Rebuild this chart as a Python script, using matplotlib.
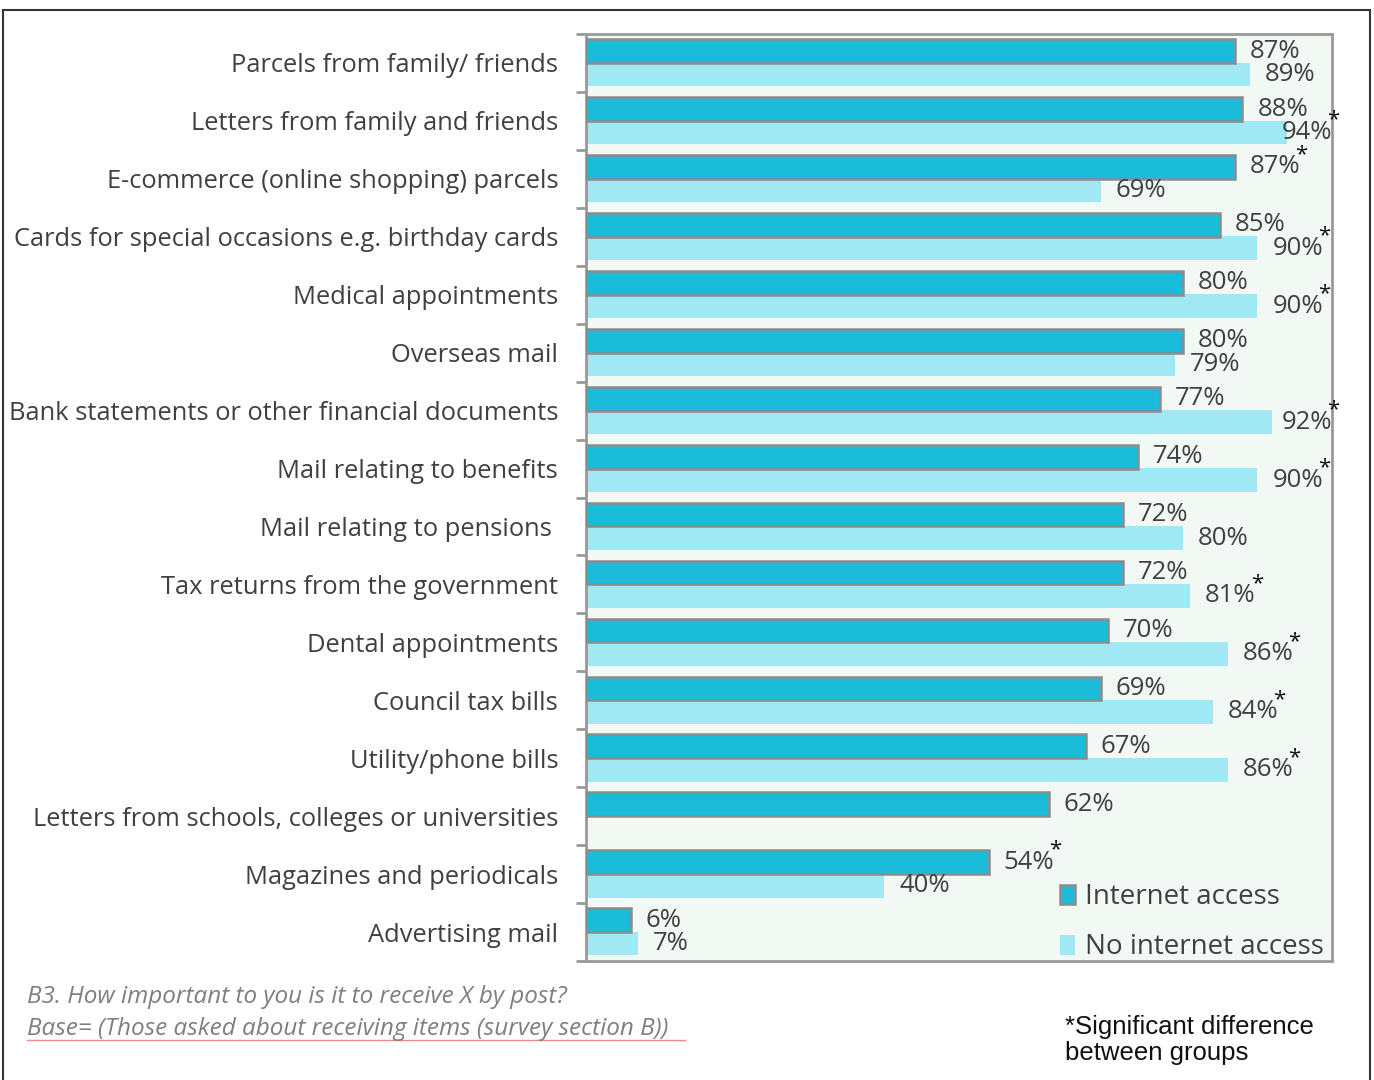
import numpy as np
import matplotlib
matplotlib.use('Agg')
import matplotlib.pyplot as plt
from matplotlib.patches import Patch, Rectangle
from matplotlib.lines import Line2D

# Importance of receiving each item by post, by internet access
categories = [
    'Parcels from family/ friends',
    'Letters from family and friends',
    'E-commerce (online shopping) parcels',
    'Cards for special occasions e.g. birthday cards',
    'Medical appointments',
    'Overseas mail',
    'Bank statements or other financial documents',
    'Mail relating to benefits',
    'Mail relating to pensions ',
    'Tax returns from the government',
    'Dental appointments',
    'Council tax bills',
    'Utility/phone bills',
    'Letters from schools, colleges or universities',
    'Magazines and periodicals',
    'Advertising mail',
]
internet = [87, 88, 87, 85, 80, 80, 77, 74, 72, 72, 70, 69, 67, 62, 54, 6]
no_internet = [89, 94, 69, 90, 90, 79, 92, 90, 80, 81, 86, 84, 86, np.nan, 40, 7]
significant = [False, True, True, True, True, False, True, True,
               False, True, True, True, True, False, True, False]

dark = '#1bbcd9'
light = '#a0e8f3'
txt = '#404040'

plt.rcParams['font.family'] = ['Open Sans', 'DejaVu Sans']

fig = plt.figure(figsize=(13.74, 10.8), dpi=100)
ax = fig.add_axes([586 / 1374, 1 - 961 / 1080, 746 / 1374, 927 / 1080])
ax.set_facecolor('#f2f9f5')

y = np.arange(len(categories))
h = 0.41
ax.barh(y - 0.205, internet, height=h, color=dark, edgecolor='#8c8c8c', linewidth=1.8, zorder=3)
ax.barh(y + 0.2, np.nan_to_num(no_internet), height=h, color=light, linewidth=0, zorder=2)

ax.set_xlim(0, 100)
ax.set_ylim(15.5, -0.5)

# value labels, kept inside the plot frame
def put_label(v, yy):
    x = min(v + 2, 93.3)
    return ax.text(x, yy, f'{v:.0f}%', ha='left', va='center', fontsize=18.5, color=txt, zorder=4)

for i in range(len(categories)):
    t1 = put_label(internet[i], y[i] - 0.205)
    t2 = None
    if not np.isnan(no_internet[i]):
        t2 = put_label(no_internet[i], y[i] + 0.2)
    if significant[i]:
        target = t1 if (t2 is None or internet[i] >= no_internet[i]) else t2
        ax.annotate('*', xy=(1.02, 1.0), xycoords=target, ha='center', va='center',
                    fontsize=16, color='#111111', zorder=5)

ax.set_yticks(y)
ax.set_yticklabels(categories, fontsize=18.4, color=txt)
ax.tick_params(axis='y', which='major', length=0, pad=20)
ax.set_yticks(np.arange(-0.5, 16, 1), minor=True)
ax.tick_params(axis='y', which='minor', length=7, width=2, color='#999999')
ax.set_xticks([])
for s in ax.spines.values():
    s.set_color('#999999')
    s.set_linewidth(2)

handles = [Patch(facecolor=dark, edgecolor='#8c8c8c', linewidth=1.8, label='Internet access'),
           Patch(facecolor=light, edgecolor='none', label='No internet access')]
ax.legend(handles=handles, loc='lower left', bbox_to_anchor=(1054 / 1374, 1 - 967 / 1080),
          bbox_transform=fig.transFigure, frameon=False, fontsize=20, handlelength=0.55,
          handleheight=0.72, handletextpad=0.36, labelspacing=0.8, labelcolor=txt,
          borderpad=0.2, borderaxespad=0)

# footnotes
fig.text(27 / 1374, 1 - 997 / 1080, 'B3. How important to you is it to receive X by post?',
         fontsize=17.5, style='italic', color='#7f7f7f', va='center')
fig.text(27 / 1374, 1 - 1029 / 1080, 'Base= (Those asked about receiving items (survey section B))',
         fontsize=17.5, style='italic', color='#7f7f7f', va='center')
fig.add_artist(Line2D([27 / 1374, 685 / 1374], [1 - 1040 / 1080, 1 - 1040 / 1080],
                      transform=fig.transFigure, color='#f08a8a', linewidth=1))
fig.text(1065 / 1374, 1 - 1040 / 1080, '*Significant difference\nbetween groups',
         fontsize=18.5, family='Liberation Sans', color='#111111', va='center', linespacing=1.1)

# outer frame
fig.add_artist(Rectangle((3 / 1374, -0.05), 1367 / 1374, 1.05 - 10 / 1080,
                         transform=fig.transFigure, fill=False, edgecolor='#333333', linewidth=1.5))

fig.savefig('out.png', dpi=100)
